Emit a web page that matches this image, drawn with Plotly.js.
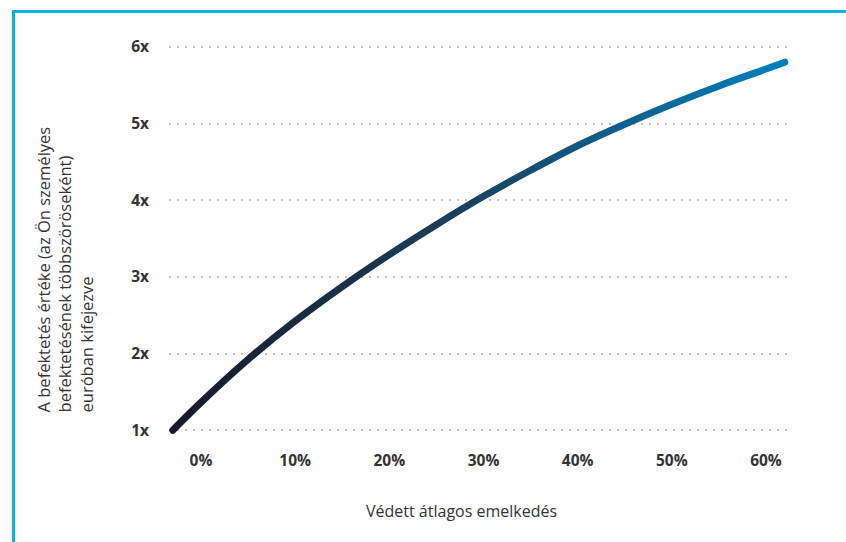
<!DOCTYPE html>
<html>
<head>
<meta charset="utf-8">
<script src="https://cdn.plot.ly/plotly-3.0.1.min.js"></script>
<style>
  html, body { margin: 0; padding: 0; background: #ffffff; }
  #wrap { position: relative; width: 846px; height: 542px; overflow: hidden; }
  #frame { position: absolute; left: 12px; top: 10px; right: -10px; bottom: -10px;
           border-top: 3px solid #00b5e4; border-left: 3px solid #00b5e4; }
  #chart { position: absolute; left: 0; top: 0; width: 846px; height: 542px; }
</style>
</head>
<body>
<div id="wrap">
  <div id="frame"></div>
  <div id="chart"></div>
</div>
<script>
// Data
const growthPct = [-3, 0, 5, 10, 15, 20, 25, 30, 35, 40, 45, 50, 55, 60, 62];
const valueMultiple = [1.00, 1.363, 1.923, 2.423, 2.873, 3.29, 3.68, 4.05, 4.39, 4.71, 4.99, 5.25, 5.49, 5.71, 5.80];
const xTickVals = [0, 10, 20, 30, 40, 50, 60];
const xTickText = ["0%", "10%", "20%", "30%", "40%", "50%", "60%"];
const yTickVals = [1, 2, 3, 4, 5, 6];
const yTickText = ["1x", "2x", "3x", "4x", "5x", "6x"];
const xTitle = "Védett átlagos emelkedés";
const yTitle = "A befektetés értéke (az Ön személyes<br>befektetésének többszöröseként)<br>euróban kifejezve";

const fontFam = "'Open Sans', 'Noto Sans', sans-serif";

const trace = {
  x: growthPct,
  y: valueMultiple,
  type: "scatter",
  mode: "lines",
  line: { color: "#123048", width: 7, shape: "spline", smoothing: 1 },
  cliponaxis: false,
  hoverinfo: "skip"
};

const layout = {
  width: 846,
  height: 542,
  margin: { l: 169, r: 56, t: 43, b: 108 },
  paper_bgcolor: "rgba(0,0,0,0)",
  plot_bgcolor: "rgba(0,0,0,0)",
  showlegend: false,
  font: { family: fontFam, color: "#333333" },
  xaxis: {
    range: [-3.4, 62.55],
    tickvals: xTickVals,
    ticktext: xTickText,
    showgrid: false,
    zeroline: false,
    showline: false,
    ticks: "",
    ticklabelstandoff: 15,
    tickfont: { family: fontFam, size: 15.5, color: "#333333", weight: "bold" }
  },
  yaxis: {
    range: [0.95, 6.05],
    tickvals: yTickVals,
    ticktext: yTickText,
    showgrid: true,
    gridcolor: "#c4c4c4",
    gridwidth: 2,
    griddash: "2px,6px",
    zeroline: false,
    showline: false,
    ticks: "",
    ticklabelstandoff: 19,
    tickfont: { family: fontFam, size: 15.5, color: "#333333", weight: "bold" }
  },
  annotations: [
    {
      text: yTitle,
      xref: "paper", yref: "paper",
      x: -0.168, y: 0.42,
      xanchor: "center", yanchor: "middle",
      textangle: -90,
      showarrow: false,
      align: "left",
      font: { family: fontFam, size: 16.5, color: "#333333" }
    },
    {
      text: xTitle,
      xref: "paper", yref: "paper",
      x: 0.471, y: -0.197,
      xanchor: "center", yanchor: "middle",
      showarrow: false,
      font: { family: fontFam, size: 16, color: "#333333" }
    }
  ]
};

Plotly.newPlot("chart", [trace], layout, { staticPlot: true, displayModeBar: false }).then(function (gd) {
  const svg = gd.querySelector("svg.main-svg");
  const ns = "http://www.w3.org/2000/svg";
  let defs = svg.querySelector("defs");
  if (!defs) { defs = document.createElementNS(ns, "defs"); svg.insertBefore(defs, svg.firstChild); }
  const grad = document.createElementNS(ns, "linearGradient");
  grad.setAttribute("id", "lineGrad");
  grad.setAttribute("x1", "0"); grad.setAttribute("y1", "0");
  grad.setAttribute("x2", "1"); grad.setAttribute("y2", "0");
  [["0", "#161a2a"], ["0.45", "#1a3f5c"], ["1", "#007fbd"]].forEach(function (s) {
    const st = document.createElementNS(ns, "stop");
    st.setAttribute("offset", s[0]);
    st.setAttribute("stop-color", s[1]);
    grad.appendChild(st);
  });
  defs.appendChild(grad);
  gd.querySelectorAll(".scatterlayer .trace path.js-line").forEach(function (p) {
    p.style.stroke = "url(#lineGrad)";
    p.style.strokeLinecap = "round";
    p.style.strokeLinejoin = "round";
  });
});
</script>
</body>
</html>
